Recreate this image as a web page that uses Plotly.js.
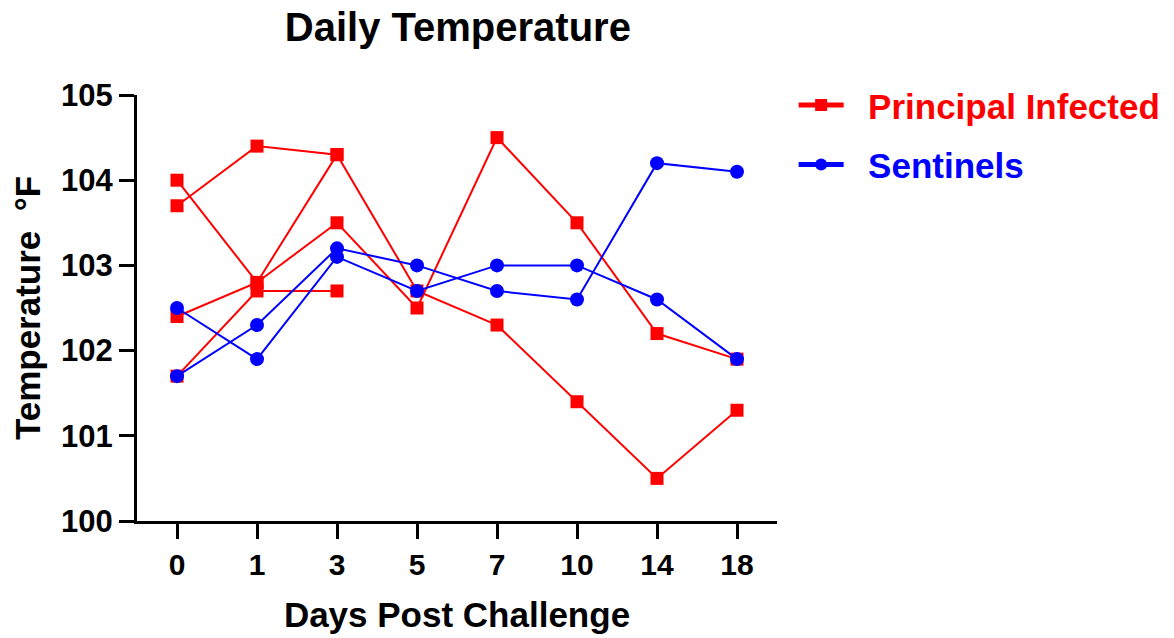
<!DOCTYPE html>
<html>
<head>
<meta charset="utf-8">
<script src="https://cdn.plot.ly/plotly-3.0.1.min.js"></script>
<style>html,body{margin:0;padding:0;background:#fff;}#chart{width:1174px;height:638px;}</style>
</head>
<body>
<div id="chart"></div>
<script>
const days = ["0", "1", "3", "5", "7", "10", "14", "18"];

// Principal Infected animals (°F)
const infectedA = [103.7, 104.4, 104.3, 102.7, 102.3, 101.4, 100.5, 101.3];
const infectedB = [104.0, 102.8, 104.3, null, null, null, null, null];
const infectedC = [102.4, 102.8, 103.5, 102.5, 104.5, 103.5, 102.2, 101.9];
const infectedD = [101.7, 102.7, 102.7, null, null, null, null, null];

// Sentinel animals (°F)
const sentinelA = [102.5, 101.9, 103.1, 102.7, 103.0, 103.0, 102.6, 101.9];
const sentinelB = [101.7, 102.3, 103.2, 103.0, 102.7, 102.6, 104.2, 104.1];

const RED = "#ff0000", BLUE = "#0000ff";
const FONT = "Liberation Sans, Arial, sans-serif";

function redTrace(y, show) {
  return {
    x: days, y: y, type: "scatter", mode: "lines+markers",
    name: '<b><span style="color:#ff0000">\u00a0\u00a0Principal Infected</span></b>',
    legendgroup: "inf", showlegend: show,
    line: {color: RED, width: 2},
    marker: {symbol: "square", size: 13, color: RED},
    connectgaps: false, cliponaxis: false
  };
}
function blueTrace(y, show) {
  return {
    x: days, y: y, type: "scatter", mode: "lines+markers",
    name: '<b><span style="color:#0000ff">\u00a0\u00a0Sentinels</span></b>',
    legendgroup: "sen", showlegend: show,
    line: {color: BLUE, width: 2},
    marker: {symbol: "circle", size: 14, color: BLUE},
    cliponaxis: false
  };
}

const data = [
  redTrace(infectedA, true), redTrace(infectedB, false),
  redTrace(infectedC, false), redTrace(infectedD, false),
  blueTrace(sentinelA, true), blueTrace(sentinelB, false)
];

const layout = {
  width: 1174, height: 638,
  margin: {l: 137, r: 397, t: 95, b: 117, pad: 0, autoexpand: false},
  paper_bgcolor: "#fff", plot_bgcolor: "#fff",
  font: {family: FONT, color: "#000"},
  title: {text: "<b>Daily Temperature</b>", font: {size: 40, family: FONT, color: "#000"},
          x: 0.39, xanchor: "center", y: 0.957, yanchor: "middle"},
  xaxis: {
    type: "category", range: [-0.5, 7.5],
    showgrid: false, zeroline: false,
    showline: true, linecolor: "#000", linewidth: 3,
    ticks: "outside", ticklen: 15, tickwidth: 3, tickcolor: "#000",
    tickfont: {size: 30, family: FONT, color: "#000", weight: "bold"},
    title: {text: "<b>Days Post Challenge</b>", font: {size: 35, family: FONT, color: "#000"}, standoff: 23}
  },
  yaxis: {
    range: [100, 105], dtick: 1, tick0: 100,
    showgrid: false, zeroline: false,
    showline: true, linecolor: "#000", linewidth: 3,
    ticks: "outside", ticklen: 15, tickwidth: 3, tickcolor: "#000",
    tickfont: {size: 31, family: FONT, color: "#000", weight: "bold"},
    title: {text: "<b>Temperature \u00a0°F</b>", font: {size: 35, family: FONT, color: "#000"}, standoff: 10}
  },
  legend: {
    x: 1.026, xanchor: "left", y: 1.045, yanchor: "top",
    font: {size: 35, family: FONT},
    traceorder: "grouped", tracegroupgap: 11,
    itemwidth: 45,
    bgcolor: "rgba(0,0,0,0)", itemsizing: "constant"
  },
  showlegend: true
};

Plotly.newPlot("chart", data, layout, {displayModeBar: false, staticPlot: true});
</script>
</body>
</html>
